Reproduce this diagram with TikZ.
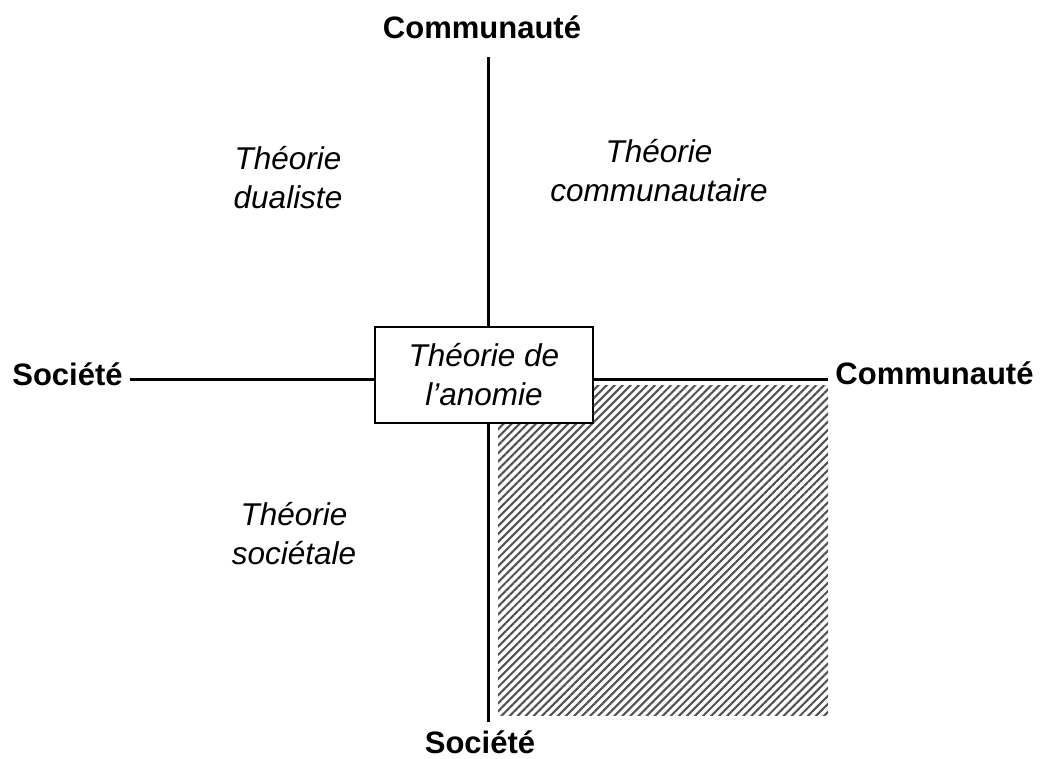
\documentclass[tikz,border=0pt]{standalone}
\usepackage{fontspec}
\setmainfont{Liberation Sans}
\usetikzlibrary{patterns.meta}

\tikzset{
  axislabel/.style={font=\fontsize{31}{37}\selectfont\bfseries, inner sep=0pt, anchor=base},
  theory/.style={font=\fontsize{31.5}{39}\selectfont\itshape, align=center, inner sep=0pt},
  axis/.style={line width=3pt},
  centrebox/.style={theory, draw, line width=2pt, fill=white,
    minimum width=218pt, minimum height=96pt},
  hatch/.style={pattern={Lines[angle=45, distance=5.7pt, line width=2.1pt]},
    pattern color=black!68},
}

\begin{document}
\begin{tikzpicture}[x=1pt, y=-1pt]
  \useasboundingbox (0,0) rectangle (1049,758);

  % shaded quadrant (community / society)
  \path[hatch] (498,385) rectangle (828,715);

  % axis end labels
  \node[axislabel] (top)    at (482,38)    {Communauté};
  \node[axislabel] (bottom) at (480,753)   {Société};
  \node[axislabel] (left)   at (67.5,385)  {Société};
  \node[axislabel] (right)  at (934.5,384) {Communauté};

  % axis end points
  \coordinate (vtop) at (488,57);
  \coordinate (vbot) at (488,722);
  \coordinate (hleft) at (130,379);
  \coordinate (hright) at (828,379);

  % axes
  \draw[axis] (vtop) -- (vbot);
  \draw[axis] (hleft) -- (hright);

  % centre box
  \node[centrebox] (anomie) at (484,375) {Théorie de\\l’anomie};

  % quadrant theories
  \node[theory] (dual)   at (288,178) {Théorie\\dualiste};
  \node[theory] (commun) at (659,171) {Théorie\\communautaire};
  \node[theory] (societ) at (294,534) {Théorie\\sociétale};
\end{tikzpicture}
\end{document}
